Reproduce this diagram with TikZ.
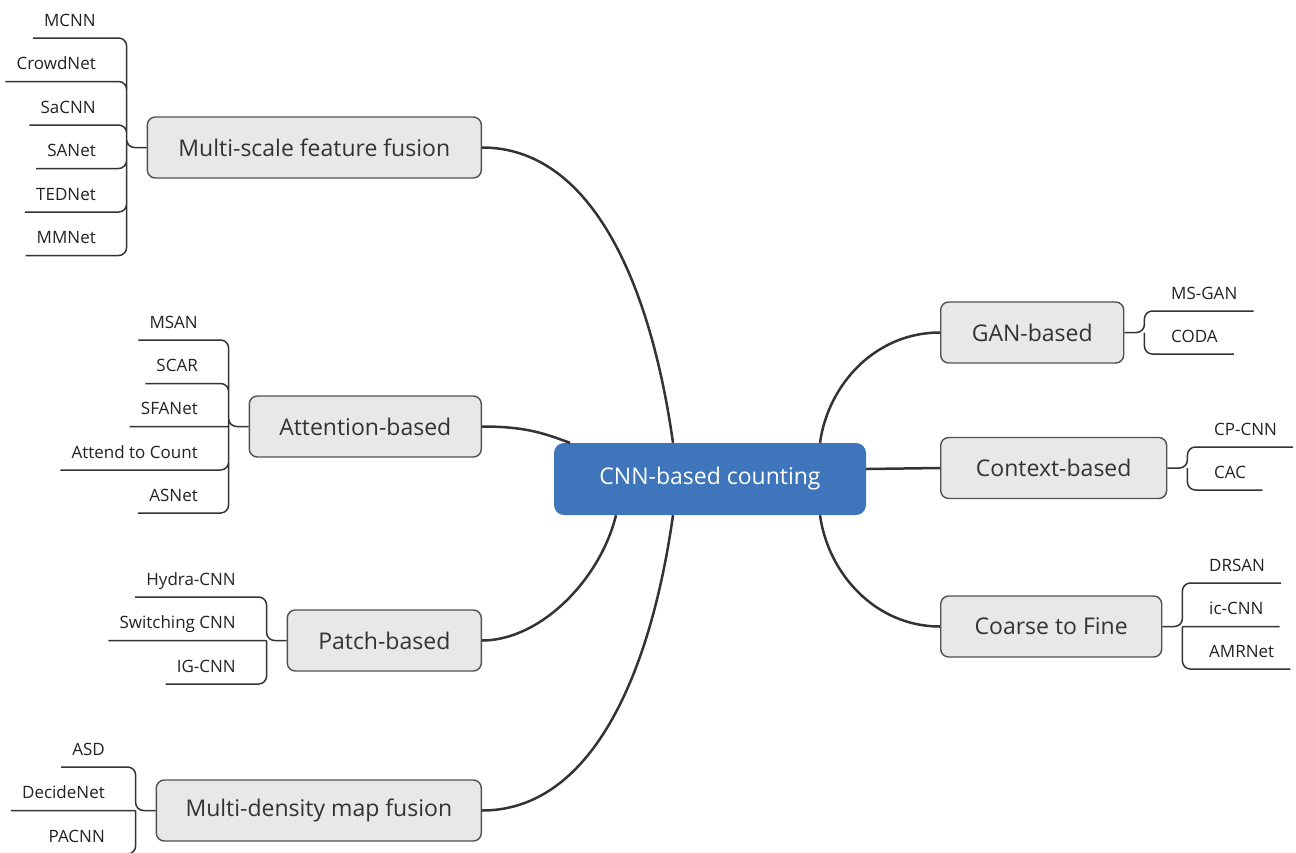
\documentclass[tikz,border=0pt]{standalone}
\usepackage{fontspec}
\setmainfont{Open Sans}
\usetikzlibrary{positioning,calc}
\definecolor{rootblue}{HTML}{3F76BB}
\definecolor{boxgray}{HTML}{E8E8E8}
\definecolor{boxline}{HTML}{505050}
\definecolor{inkgray}{HTML}{333333}
\definecolor{leafink}{HTML}{222222}

\begin{document}
\begin{tikzpicture}[x=1pt, y=-1pt,
    root/.style={fill=rootblue, text=white, rounded corners=10pt, minimum width=312pt,
                 minimum height=72pt, font=\fontsize{23}{28}\selectfont},
    topic/.style={draw=boxline, line width=1.4pt, fill=boxgray, text=inkgray,
                  rounded corners=8pt, inner xsep=20pt, minimum height=61pt,
                  font=\fontsize{23}{28}\selectfont},
    leafl/.style={anchor=south east, inner xsep=11pt, inner ysep=11.5pt, text depth=0pt,
                  text=leafink, font=\fontsize{17}{20}\selectfont},
    leafr/.style={leafl, anchor=south west, inner xsep=16pt},
    branch/.style={draw=inkgray, line width=2.5pt},
    twig/.style={draw=inkgray, line width=1.5pt, rounded corners=8pt}]
  \useasboundingbox (0,0) rectangle (1296,852);
  % centre and the seven topics
  \node[root] (root) at (710,479) {CNN-based counting};
  \node[topic, anchor=east, minimum width=334pt] (msf) at (482,147.5) {Multi-scale feature fusion};
  \node[topic, anchor=east, minimum width=232pt] (att) at (482,426.5) {Attention-based};
  \node[topic, anchor=east, minimum width=194pt] (pat) at (482,640.5) {Patch-based};
  \node[topic, anchor=east, minimum width=325pt] (mdm) at (482,810.5) {Multi-density map fusion};
  \node[topic, anchor=west, minimum width=183pt] (gan) at (940,332.5) {GAN-based};
  \node[topic, anchor=west, minimum width=226pt] (ctx) at (940,468) {Context-based};
  \node[topic, anchor=west, minimum width=221pt] (ctf) at (940,626.5) {Coarse to Fine};
  \draw[branch] (msf.east) .. controls +(108,0) and +(-23,-163) .. ([xshift=-37pt]root.north);
  \draw[branch] (att.east) .. controls +(45,0) and +(-25,-9) .. ([xshift=-140pt]root.north);
  \draw[branch] (pat.east) .. controls +(58,0) and +(-16,65) .. ([xshift=-94pt]root.south);
  \draw[branch] (mdm.east) .. controls +(108,0) and +(-23,163) .. ([xshift=-37pt]root.south);
  \draw[branch] (gan.west) .. controls +(-65,0) and +(8,-58) .. ([xshift=110pt]root.north);
  \draw[branch] (ctx.west) -- ([yshift=10pt]root.east);
  \draw[branch] (ctf.west) .. controls +(-65,0) and +(8,58) .. ([xshift=110pt]root.south);
  % junctions of the leaf brackets
  \coordinate (jmsf) at ([xshift=-20pt]msf.west);
  \coordinate (jatt) at ([xshift=-20pt]att.west);
  \coordinate (jpat) at ([xshift=-20pt]pat.west);
  \coordinate (jmdm) at ([xshift=-20pt]mdm.west);
  \coordinate (jgan) at ([xshift=20pt]gan.east);
  \coordinate (jctx) at ([xshift=20pt]ctx.east);
  \coordinate (jctf) at ([xshift=20pt]ctf.east);
  % multi-scale feature fusion
  \node[leafl] (mcnn) at (107,38) {MCNN};
  \node[leafl] (crowdnet) at (107,81.5) {CrowdNet};
  \node[leafl] (sacnn) at (107,125) {SaCNN};
  \node[leafl] (sanet) at (107,168.5) {SANet};
  \node[leafl] (tednet) at (107,212) {TEDNet};
  \node[leafl] (mmnet) at (107,255.5) {MMNet};
  \draw[twig] (msf.west) -- (jmsf) |- (mcnn.south west) (jmsf) |- (crowdnet.south west)
    (jmsf) |- (sacnn.south west) (jmsf) |- (sanet.south west)
    (jmsf) |- (tednet.south west) (jmsf) |- (mmnet.south west);
  % attention-based
  \node[leafl] (msan) at (209,340) {MSAN};
  \node[leafl] (scar) at (209,383.5) {SCAR};
  \node[leafl] (sfanet) at (209,426.5) {SFANet};
  \node[leafl] (attend) at (209,470) {Attend to Count};
  \node[leafl] (asnet) at (209,513) {ASNet};
  \draw[twig] (att.west) -- (jatt) |- (msan.south west) (jatt) |- (scar.south west)
    (jatt) -- (sfanet.south west) (jatt) |- (attend.south west) (jatt) |- (asnet.south west);
  % patch-based
  \node[leafl] (hydra) at (247,597) {Hydra-CNN};
  \node[leafl] (switching) at (247,640.5) {Switching CNN};
  \node[leafl] (igcnn) at (247,684) {IG-CNN};
  \draw[twig] (pat.west) -- (jpat) |- (hydra.south west) (jpat) -- (switching.south west)
    (jpat) |- (igcnn.south west);
  % multi-density map fusion
  \node[leafl] (asd) at (116,767) {ASD};
  \node[leafl] (decidenet) at (116,810.5) {DecideNet};
  \node[leafl] (pacnn) at (116,854) {PACNN};
  \draw[twig] (mdm.west) -- (jmdm) |- (asd.south west) (jmdm) -- (decidenet.south west)
    (jmdm) |- (pacnn.south west);
  % GAN-based
  \node[leafr] (msgan) at (1155,311) {MS-GAN};
  \node[leafr] (coda) at (1155,354) {CODA};
  \draw[twig] (gan.east) -- (jgan) |- (msgan.south east) (jgan) |- (coda.south east);
  % context-based
  \node[leafr] (cpcnn) at (1198,447) {CP-CNN};
  \node[leafr] (cac) at (1198,490) {CAC};
  \draw[twig] (ctx.east) -- (jctx) |- (cpcnn.south east) (jctx) |- (cac.south east);
  % coarse to fine
  \node[leafr] (drsan) at (1193,583) {DRSAN};
  \node[leafr] (iccnn) at (1193,626.5) {ic-CNN};
  \node[leafr] (amrnet) at (1193,669) {AMRNet};
  \draw[twig] (ctf.east) -- (jctf) |- (drsan.south east) (jctf) -- (iccnn.south east)
    (jctf) |- (amrnet.south east);
\end{tikzpicture}
\end{document}
